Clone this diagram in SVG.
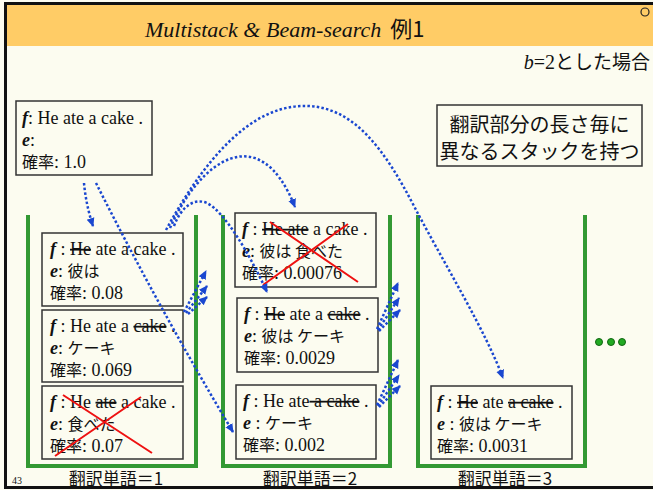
<svg xmlns="http://www.w3.org/2000/svg" width="653" height="490" viewBox="0 0 653 490">
<defs>
<style>
.bg{fill:#fcfcf0}
.box{fill:#fcfcf0;stroke:#333;stroke-width:1.5}
.t{font-family:"Liberation Serif","Noto Sans CJK JP",serif;font-size:18px;fill:#111}
.jp{font-family:"Noto Sans CJK JP","Noto Sans",sans-serif;font-size:16px}
.j{font-family:"Noto Sans CJK JP","Noto Sans",sans-serif;fill:#111}
.v{font-weight:bold;font-style:italic}
.s{text-decoration:line-through}
.stack{fill:none;stroke:#339933;stroke-width:4}
.x{stroke:#ee1111;stroke-width:2}
.arr{fill:none;stroke:#1a47d0;stroke-width:2.5;stroke-dasharray:2.5 2.2;marker-end:url(#ah)}
</style>
<marker id="ah" markerUnits="userSpaceOnUse" markerWidth="10" markerHeight="10" refX="8" refY="5" orient="auto"><path d="M0,1 L9,5 L0,9 z" fill="#1a47d0"/></marker>
</defs>
<rect class="bg" x="0" y="0" width="653" height="490"/>
<rect x="5" y="4" width="648" height="42" fill="#ffcc66"/>
<path d="M4 3.5 H653 M5.5 3 V489 M4 487.5 H653" stroke="#111" stroke-width="3" fill="none"/>
<circle cx="645" cy="12" r="4" fill="none" stroke="#222" stroke-width="1.2"/>
<g id="title"><text x="145" y="37" class="t" style="font-size:22px"><tspan font-style="italic">Multistack &amp; Beam-search</tspan><tspan class="j" font-size="22" dx="9">例1</tspan></text></g>
<g id="note-b"><text x="650" y="69" text-anchor="end" class="t" style="font-size:20px"><tspan font-style="italic">b</tspan>=2<tspan class="j" font-size="19">とした場合</tspan></text></g>
<g id="explain">
<rect class="box" x="437" y="105" width="205" height="61"/>
<text class="j" font-size="20" x="539.5" y="132" text-anchor="middle">翻訳部分の長さ毎に</text>
<text class="j" font-size="20" x="539.5" y="159" text-anchor="middle">異なるスタックを持つ</text>
</g>
<g id="stacks">
<path class="stack" d="M28 215 V466 H196 V215"/>
<path class="stack" d="M223 215 V466 H390 V215"/>
<path class="stack" d="M418 215 V466 H585 V215"/>
<text class="j" font-size="17" x="116" y="485" text-anchor="middle">翻訳単語＝1</text>
<text class="j" font-size="17" x="310" y="485" text-anchor="middle">翻訳単語＝2</text>
<text class="j" font-size="17" x="505" y="485" text-anchor="middle">翻訳単語＝3</text>
<text class="t" x="12" y="484" style="font-size:10px">43</text>
</g>
<g id="more">
<circle cx="599" cy="342" r="3.5" fill="#22aa22" stroke="#116611" stroke-width="1"/>
<circle cx="611" cy="342" r="3.5" fill="#22aa22" stroke="#116611" stroke-width="1"/>
<circle cx="622" cy="342" r="3.5" fill="#22aa22" stroke="#116611" stroke-width="1"/>
</g>
<g id="init">
<rect class="box" x="16" y="101" width="136" height="74"/>
<text class="t" x="22" y="124"><tspan class="v">f</tspan>: He ate a cake .</text>
<text class="t" x="22" y="146"><tspan class="v">e</tspan>:</text>
<text class="t" x="22" y="168"><tspan class="jp">確率</tspan>: 1.0</text>
</g>
<g id="s1b1">
<rect class="box" x="42" y="233" width="141" height="73"/>
<text class="t" x="50" y="255"><tspan class="v">f</tspan> : <tspan class="s">He</tspan> ate a cake .</text>
<text class="t" x="50" y="277"><tspan class="v">e</tspan>: <tspan class="jp">彼は</tspan></text>
<text class="t" x="50" y="299"><tspan class="jp">確率</tspan>: 0.08</text>
</g>
<g id="s1b2">
<rect class="box" x="42" y="310" width="141" height="72"/>
<text class="t" x="50" y="332"><tspan class="v">f</tspan> : He ate a <tspan class="s">cake</tspan> .</text>
<text class="t" x="50" y="354"><tspan class="v">e</tspan>: <tspan class="jp">ケーキ</tspan></text>
<text class="t" x="50" y="376"><tspan class="jp">確率</tspan>: 0.069</text>
</g>
<g id="s1b3">
<rect class="box" x="42" y="386" width="141" height="73"/>
<text class="t" x="50" y="408"><tspan class="v">f</tspan> : He <tspan class="s">ate</tspan> a cake .</text>
<text class="t" x="50" y="430"><tspan class="v">e</tspan>: <tspan class="jp">食べた</tspan></text>
<text class="t" x="50" y="452"><tspan class="jp">確率</tspan>: 0.07</text>
<path class="x" d="M55 456 L141 397 M63 395 L152 453"/>
</g>
<g id="s2b1">
<rect class="box" x="235" y="213" width="141" height="74"/>
<text class="t" x="242" y="235"><tspan class="v">f</tspan> : <tspan class="s">He ate</tspan> a cake .</text>
<text class="t" x="242" y="257"><tspan class="v">e</tspan>: <tspan class="jp">彼は 食べた</tspan></text>
<text class="t" x="242" y="279"><tspan class="jp">確率</tspan>: 0.00076</text>
<path class="x" d="M270 222 L358 282 M263 285 L348 224"/>
</g>
<g id="s2b2">
<rect class="box" x="237" y="298" width="141" height="74"/>
<text class="t" x="244" y="320"><tspan class="v">f</tspan> : <tspan class="s">He</tspan> ate a <tspan class="s">cake</tspan> .</text>
<text class="t" x="244" y="342"><tspan class="v">e</tspan>: <tspan class="jp">彼は ケーキ</tspan></text>
<text class="t" x="244" y="364"><tspan class="jp">確率</tspan>: 0.0029</text>
</g>
<g id="s2b3">
<rect class="box" x="236" y="385" width="140" height="74"/>
<text class="t" x="243" y="407"><tspan class="v">f</tspan> : He ate<tspan class="s"> a cake</tspan> .</text>
<text class="t" x="243" y="429"><tspan class="v">e</tspan> : <tspan class="jp">ケーキ</tspan></text>
<text class="t" x="243" y="451"><tspan class="jp">確率</tspan>: 0.002</text>
</g>
<g id="s3b1">
<rect class="box" x="431" y="386" width="141" height="73"/>
<text class="t" x="437" y="408"><tspan class="v">f</tspan> : <tspan class="s">He</tspan> ate <tspan class="s">a cake</tspan> .</text>
<text class="t" x="437" y="430"><tspan class="v">e</tspan> : <tspan class="jp">彼は ケーキ</tspan></text>
<text class="t" x="437" y="452"><tspan class="jp">確率</tspan>: 0.0031</text>
</g>
<g id="connectors">
<path class="arr" d="M84 183 Q86 205 93 226"/>
<path class="arr" d="M96 183 Q160 310 233 432"/>
<path class="arr" d="M166 230 C215 140 262 104 308 106 C355 108 385 150 415 208 C445 265 485 330 503 378"/>
<path class="arr" d="M170 228 C200 160 260 118 295 207"/>
<path class="arr" d="M174 226 C182 205 195 198 207 203 C225 212 250 255 267 292"/>
<path class="arr" d="M184 312 L206 271"/>
<path class="arr" d="M186 313 L207 286"/>
<path class="arr" d="M188 314 L207 297"/>
<path class="arr" d="M377 329 L398 283"/>
<path class="arr" d="M378 330 L399 298"/>
<path class="arr" d="M379 331 L400 310"/>
<path class="arr" d="M377 405 L398 360"/>
<path class="arr" d="M378 406 L399 375"/>
<path class="arr" d="M379 407 L400 386"/>
</g>
</svg>
